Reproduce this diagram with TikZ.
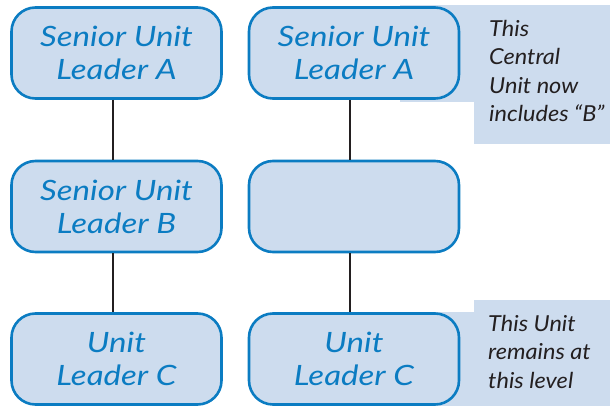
\documentclass[tikz,border=0pt]{standalone}
\usepackage{fontspec}
\setmainfont{Lato}[FakeStretch=1.18]
\newfontfamily\notefont{Lato}[FakeStretch=1.07]
\definecolor{boxfill}{HTML}{CDDCEE}
\definecolor{boxline}{HTML}{0B7CC2}
\definecolor{notetext}{HTML}{231F20}
\definecolor{linkcol}{HTML}{231F20}
\begin{document}
\begin{tikzpicture}[x=1pt,y=-1pt,
  unitbox/.style={draw=boxline, line width=2.6pt, fill=boxfill, rounded corners=24pt,
    minimum width=210pt, minimum height=91pt, inner sep=0pt, align=center,
    text=boxline, font=\fontsize{28}{33}\selectfont\itshape},
  notetxt/.style={anchor=north west, inner sep=0pt, align=left, text=notetext,
    font=\notefont\fontsize{22}{28.5}\selectfont\itshape},
  link/.style={draw=linkcol, line width=2pt}]
\useasboundingbox (0,0) rectangle (610,406);
% note backgrounds
\fill[boxfill] (400,5) rectangle (610,102);
\fill[boxfill] (474,5) rectangle (610,144);
\fill[boxfill] (400,312) rectangle (610,406);
\fill[boxfill] (474,300) rectangle (610,406);
% boxes
\node[unitbox] (la) at (116.5,53) {Senior Unit\\Leader A};
\node[unitbox] (lb) at (116.5,206.5) {Senior Unit\\Leader B};
\node[unitbox] (lc) at (116.5,359) {Unit\\Leader C};
\node[unitbox] (ra) at (354,53) {Senior Unit\\Leader A};
\node[unitbox] (rb) at (354,206.5) {};
\node[unitbox] (rc) at (354,359) {Unit\\Leader C};
% links
\draw[link] ([xshift=-3.5pt]la.south) -- ([xshift=-3.5pt]lb.north);
\draw[link] ([xshift=-3.5pt]lb.south) -- ([xshift=-3.5pt]lc.north);
\draw[link] ([xshift=-4pt]ra.south) -- ([xshift=-4pt]rb.north);
\draw[link] ([xshift=-4pt]rb.south) -- ([xshift=-4pt]rc.north);
% notes
\node[notetxt] (n1) at (489,20) {This\\Central\\Unit now\\includes “B”};
\node[notetxt] (n2) at (488,315) {This Unit\\remains at\\this level};
\end{tikzpicture}
\end{document}
